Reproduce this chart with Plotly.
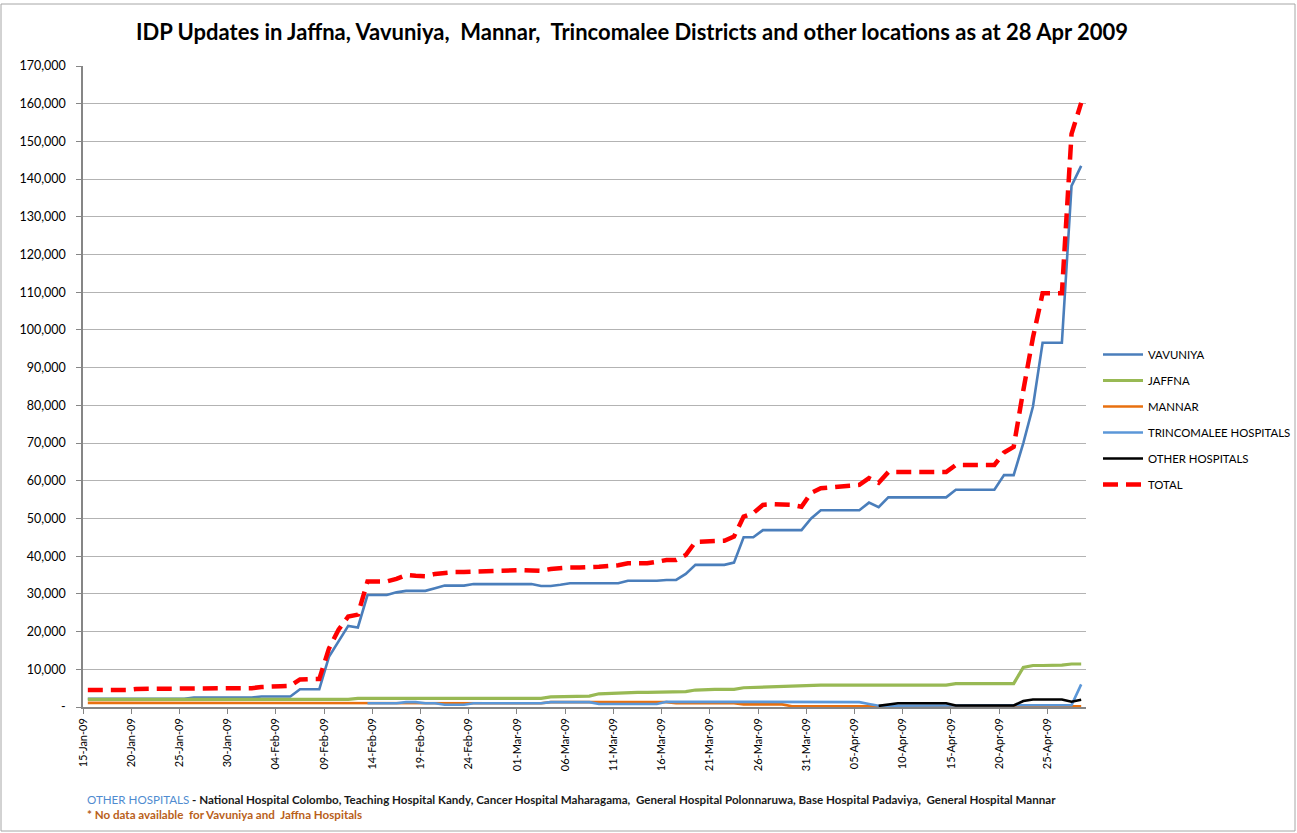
import plotly.graph_objects as go
import pandas as pd

# ---------------- data ----------------
start_date = "2009-01-15"
end_date = "2009-04-28"

vavuniya = [
    2200, 2200, 2200, 2200, 2200, 2200, 2200, 2200, 2200, 2200, 2200,
    2500, 2500, 2500, 2500, 2500, 2500, 2500,
    2800, 2800, 2800, 2800,
    4700, 4700, 4700,
    13300, 17500, 21500, 21100, 29700, 29700, 29700, 30400, 30800, 30800,
    30800, 31500, 32200, 32200, 32200,
    32600, 32600, 32600, 32600, 32600, 32600, 32600,
    32100, 32100, 32400,
    32800, 32800, 32800, 32800, 32800, 32800,
    33500, 33500, 33500, 33500,
    33700, 33700, 35300,
    37700, 37700, 37700, 37700,
    38300, 45000, 45000,
    46900, 46900, 46900, 46900, 46900,
    50000,
    52200, 52200, 52200, 52200, 52200,
    54200, 53000,
    55600, 55600, 55600, 55600, 55600, 55600, 55600,
    57600, 57600, 57600, 57600, 57600,
    61500, 61500, 70000, 79700, 96600, 96600, 96600, 138200, 143500,
]

jaffna = [
    2000, 2000, 2000, 2000, 2000, 2000, 2000, 2000, 2000, 2000,
    2000, 2000, 2000, 2000, 2000, 2000, 2000, 2000, 2000, 2000,
    2000, 2000, 2000, 2000, 2000, 2000, 2000, 2000,
    2300, 2300, 2300, 2300, 2300, 2300, 2300, 2300, 2300, 2300,
    2300, 2300, 2300, 2300, 2300, 2300, 2300, 2300, 2300, 2300,
    2700, 2800, 2800, 2800, 2900, 3500, 3600,
    3900, 3900, 3900, 3900, 3900, 3900, 3900,
    4100, 4500, 4700, 4700, 4700, 4700,
    5100, 5200, 5400, 5400, 5400, 5600,
    5800, 5800, 5800, 5800, 5800, 5800, 5800, 5800,
    5800, 5800, 5800, 5800, 5800, 5800, 5800, 5800,
    6200, 6200, 6200, 6200, 6200, 6200, 6200,
    10500, 11000, 11000, 11000, 11100, 11400, 11400,
]

mannar = [
    1100, 1100, 1100, 1100, 1100, 1100, 1100, 1100, 1100, 1100,
    1100, 1100, 1100, 1100, 1100, 1100, 1100, 1100, 1100, 1100,
    1100, 1100, 1100, 1100, 1100, 1100, 1100, 1100, 1100, 1100,
    1100, 1100, 1100, 1100, 1100, 1100, 1100, 1100, 1100, 1100,
    1100,
    1000, 1000, 1000, 1000, 1000, 1000, 1000,
    1300, 1300, 1300, 1300, 1300, 1300, 1300, 1300, 1300, 1300,
    1300, 1300, 1300,
    1000, 1000, 1000, 1000, 1000, 1000, 1000,
    700, 700, 700, 700, 700,
    200, 200, 200, 200, 200, 200, 200, 200, 200, 200,
    200, 200, 200, 200, 200, 200, 200, 200, 200, 200,
    200, 200, 200, 200, 200, 200, 200, 200, 200, 200,
    200,
]

trincomalee = [
    None, None, None, None, None, None, None, None, None, None,
    None, None, None, None, None, None, None, None, None, None,
    None, None, None, None, None, None, None, None, None,
    1000, 1000, 1000, 1000,
    1300, 1300,
    1000, 1000,
    600, 600, 600,
    1000, 1000, 1000, 1000, 1000, 1000, 1000, 1000,
    1300, 1300, 1300, 1300, 1300,
    800, 800, 800, 800, 800, 800, 800,
    1400, 1400, 1400, 1400, 1400, 1400, 1400,
    1300, 1300, 1300, 1300, 1300, 1300, 1300, 1300, 1300, 1300,
    1300, 1300, 1300, 1300,
    800,
    350, 350, 350, 350, 350, 350, 350, 350, 350, 350,
    350, 350, 350, 350, 350,
    500, 500, 500, 500, 500, 500,
    6000,
]

other_hospitals = [
    None, None, None, None, None, None, None, None, None, None,
    None, None, None, None, None, None, None, None, None, None,
    None, None, None, None, None, None, None, None, None, None,
    None, None, None, None, None, None, None, None, None, None,
    None, None, None, None, None, None, None, None, None, None,
    None, None, None, None, None, None, None, None, None, None,
    None, None, None, None, None, None, None, None, None, None,
    None, None, None, None, None, None, None, None, None, None,
    None, None,
    300, 700,
    1000, 1000, 1000, 1000, 1000, 1000,
    400, 400, 400, 400, 400, 400, 400,
    1600, 2000, 2000, 2000, 2000, 1400, 1900,
]

total = [
    4500, 4500, 4500, 4500, 4500,
    4800, 4800, 4800, 4800, 4800,
    5000, 5000, 5000, 5000, 5000, 5000, 5000, 5000,
    5300, 5500, 5500, 5600,
    7300, 7400, 7400,
    15500, 20500, 24000, 24500, 33300, 33300, 33300, 34000, 35000, 34800,
    34700, 35300, 35700, 35800, 35800,
    35900, 36200, 36300, 36300, 36300, 36300, 36200, 36100, 36600, 36900,
    37000, 37000, 37000, 37200, 37400, 37600,
    38100, 38100, 38100, 38500, 39000, 39000, 40300,
    43800, 43900, 43900, 44100, 45200, 50500, 51400,
    53600, 53800, 53800, 53600, 53100,
    56800, 58000, 58300, 58500, 58700, 58900,
    60700, 59500,
    62300, 62300, 62300, 62300, 62300, 62300, 62300,
    64200, 64200, 64200, 64200, 64200,
    67500, 69000, 84000, 98000, 109700, 109700, 109700, 152000, 160200,
]

series_names = ["VAVUNIYA", "JAFFNA", "MANNAR", "TRINCOMALEE HOSPITALS",
                "OTHER HOSPITALS", "TOTAL"]

y_tick_values = [0, 10000, 20000, 30000, 40000, 50000, 60000, 70000, 80000,
                 90000, 100000, 110000, 120000, 130000, 140000, 150000,
                 160000, 170000]
y_tick_labels = ["-", "10,000", "20,000", "30,000", "40,000", "50,000",
                 "60,000", "70,000", "80,000", "90,000", "100,000", "110,000",
                 "120,000", "130,000", "140,000", "150,000", "160,000",
                 "170,000"]

title_text = ("IDP Updates in Jaffna, Vavuniya,  Mannar,  Trincomalee Districts "
              "and other locations as at 28 Apr 2009")
note_1_head = "OTHER HOSPITALS"
note_1_rest = (" - National Hospital Colombo, Teaching Hospital Kandy, Cancer Hospital "
               "Maharagama,  General Hospital Polonnaruwa, Base Hospital Padaviya,  "
               "General Hospital Mannar")
note_2 = "* No data available  for Vavuniya and  Jaffna Hospitals"

# ---------------- figure ----------------
dates = pd.date_range(start_date, end_date, freq="D")

styles = [
    dict(color="#4A7EBB", width=2.6),
    dict(color="#98B954", width=3.2),
    dict(color="#E8700F", width=2.6),
    dict(color="#5B97D8", width=2.6),
    dict(color="#000000", width=2.6),
    dict(color="#FF0000", width=4.5, dash="15px,8px"),
]
values = [vavuniya, jaffna, mannar, trincomalee, other_hospitals, total]

FONT = "Lato, 'Open Sans', sans-serif"

fig = go.Figure()
for name, vals, st in zip(series_names, values, styles):
    fig.add_trace(go.Scatter(
        x=dates, y=vals, name=name, mode="lines",
        line=st, connectgaps=False,
        xperiod=86400000, xperiodalignment="middle",
        legendgroup=name,
    ))

# plot area in pixels: x 83..1086, y 66..707
L, R, T, B = 83, 1086, 66, 707
W, H = 1297, 833


def px(xp):
    return (xp - L) / (R - L)


def py(yp):
    return (B - yp) / (B - T)


fig.update_layout(
    width=W, height=H,
    margin=dict(l=L, r=W - R, t=T, b=H - B, pad=0, autoexpand=False),
    paper_bgcolor="white", plot_bgcolor="white",
    font=dict(family=FONT, color="#000000", size=11),
    title=dict(text="<b>" + title_text + "</b>", x=632 / W, y=1 - 32 / H,
               xanchor="center", yanchor="middle",
               font=dict(family=FONT, size=22, color="#000000")),
    showlegend=True,
    legend=dict(x=px(1098), y=py(340), xanchor="left", yanchor="top",
                font=dict(family=FONT, size=11.4, color="#000000"),
                tracegroupgap=7, bgcolor="rgba(0,0,0,0)",
                itemwidth=40),
    xaxis=dict(
        type="date",
        range=["2009-01-15", "2009-04-29"],
        tick0="2009-01-15", dtick=5 * 86400000,
        tickformat="%d-%b-%y", tickangle=-90,
        ticks="outside", ticklen=5, tickcolor="#868686",
        showline=True, linecolor="#868686", linewidth=1.5,
        showgrid=False, zeroline=False,
        tickfont=dict(family=FONT, size=11, color="#000000"),
    ),
    yaxis=dict(
        range=[0, 170000],
        tickvals=y_tick_values, ticktext=y_tick_labels,
        ticks="outside", ticklen=5, tickcolor="#868686",
        ticklabelstandoff=8,
        showline=True, linecolor="#868686", linewidth=1.5,
        showgrid=True, gridcolor="#B3B3B3", gridwidth=1.3,
        zeroline=False,
        tickfont=dict(family=FONT, size=12.5, color="#000000"),
    ),
)

fig.add_annotation(
    xref="paper", yref="paper", x=px(85), y=py(799),
    xanchor="left", yanchor="middle", showarrow=False,
    text=("<span style='color:#4F8BD0'>" + note_1_head + "</span>"
          "<b>" + note_1_rest + "</b>"),
    font=dict(family=FONT, size=11.6, color="#1A1A1A"),
)
fig.add_annotation(
    xref="paper", yref="paper", x=px(85), y=py(814),
    xanchor="left", yanchor="middle", showarrow=False,
    text="<b>" + note_2 + "</b>",
    font=dict(family=FONT, size=11.6, color="#B9601A"),
)

# chart border
fig.add_shape(type="rect", xref="paper", yref="paper",
              x0=px(1), x1=px(1295), y0=py(831), y1=py(4),
              line=dict(color="#A6A6A6", width=1), layer="below")

fig.write_html("out.html",
               config={"displayModeBar": False},
               post_script="document.body.style.margin='0';"
                           "document.body.style.overflow='hidden';")
